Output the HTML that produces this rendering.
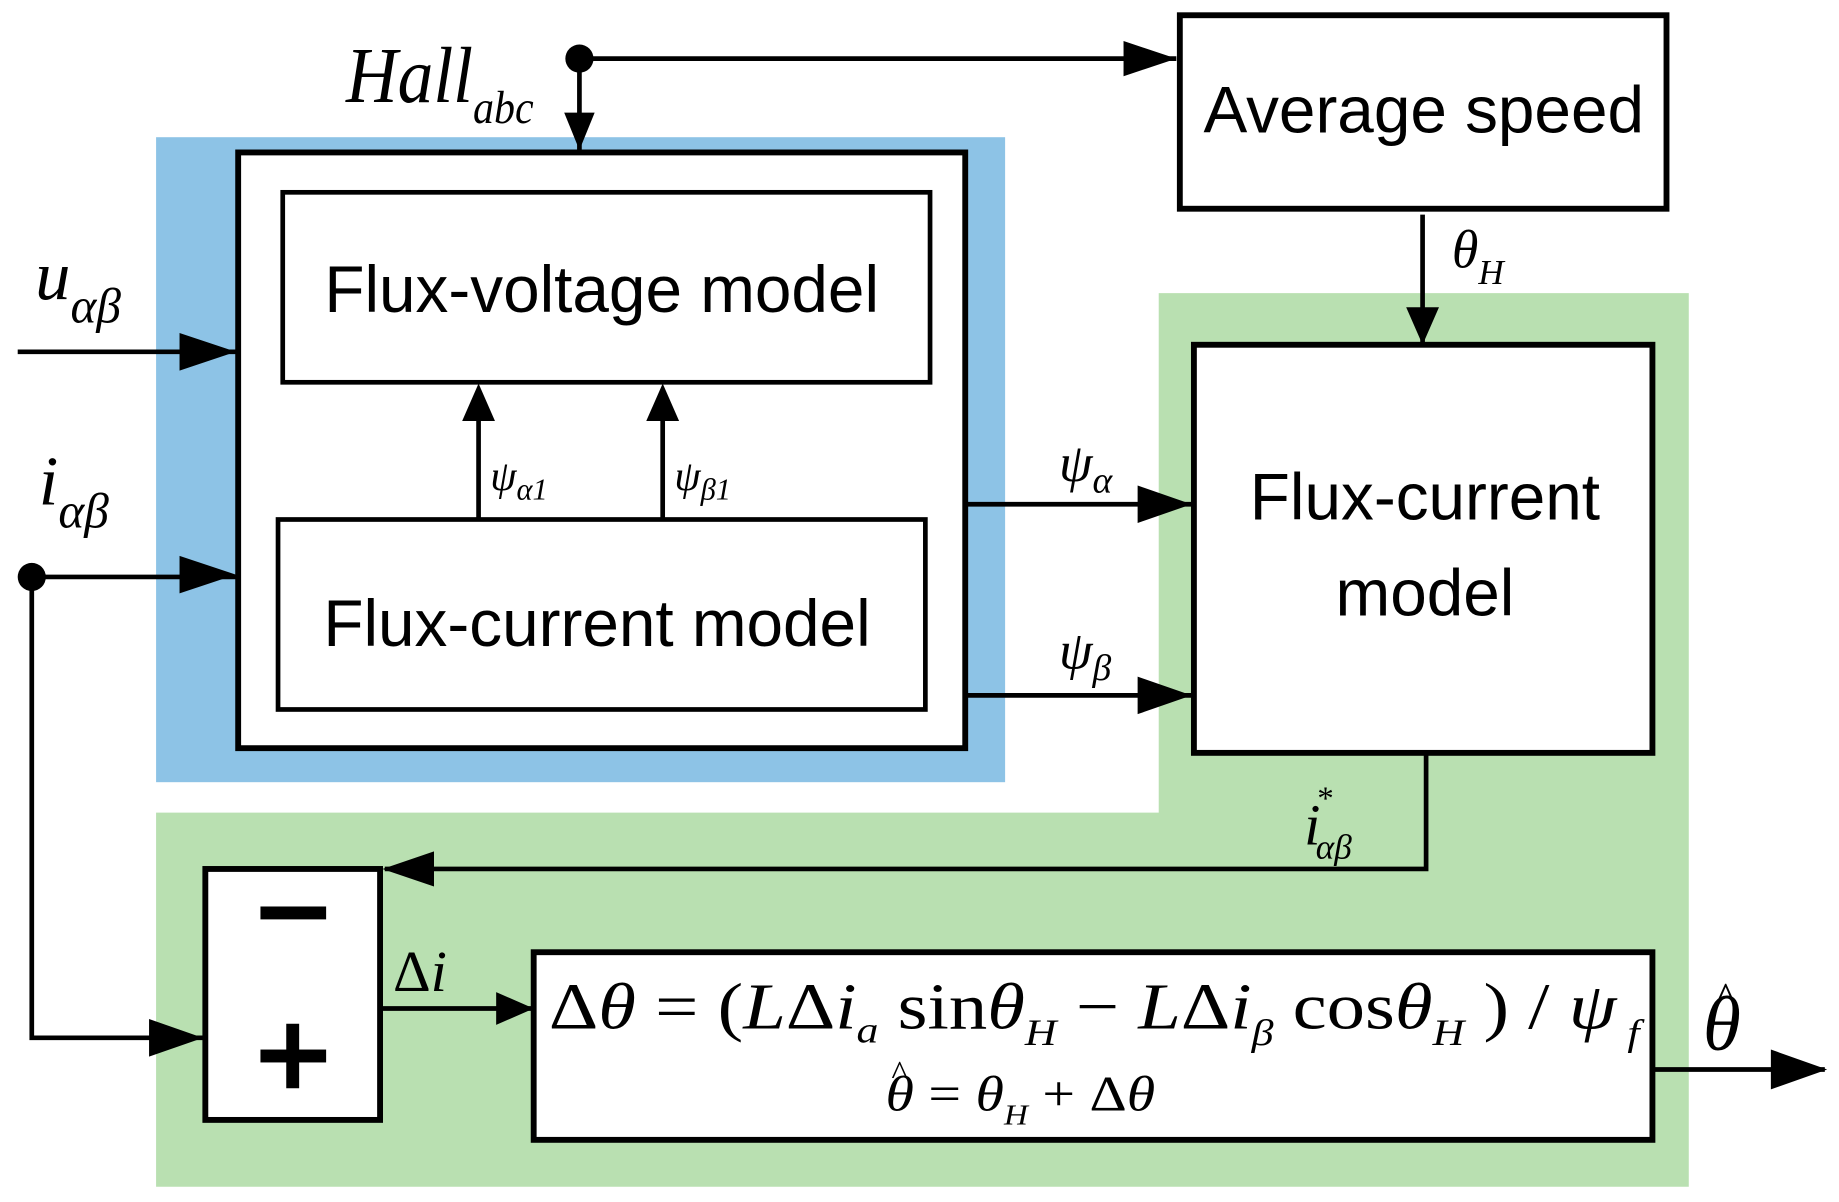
<!DOCTYPE html>
<html><head><style>html,body{margin:0;padding:0;background:#fff}svg{display:block}
.b{font-family:"Liberation Sans",Arial,sans-serif;font-size:56px}
.m{font-family:"Liberation Serif","Times New Roman",serif;font-style:italic}
.r{font-family:"Liberation Serif","Times New Roman",serif}
</style></head><body>
<svg width="1839" height="1202" viewBox="0 0 1568 1025" xmlns="http://www.w3.org/2000/svg">
<polygon points="988,250 1440,250 1440,1012 133,1012 133,693 988,693" fill="#b9e0b1"/>
<rect x="133" y="117" width="724" height="550" fill="#8dc3e6"/>
<g fill="#fff" stroke="#000" stroke-width="5">
<rect x="203" y="130" width="620" height="508"/>
<rect x="241" y="164" width="552" height="162" stroke-width="4"/>
<rect x="237" y="443" width="552" height="162" stroke-width="4"/>
<rect x="1006" y="13" width="415" height="165"/>
<rect x="1018" y="294" width="391" height="348"/>
<rect x="175" y="741" width="149" height="214"/>
<rect x="455" y="812" width="954" height="160"/>
</g>
<g stroke="#000" stroke-width="4" fill="none">
<path d="M494,50H1003"/><path d="M494,50V128"/>
<path d="M15,300H201"/><path d="M27,492H201"/><path d="M27,492V885H173"/>
<path d="M408,443V340"/><path d="M565,443V340"/>
<path d="M823,430H1016"/><path d="M823,593H1016"/>
<path d="M1213,183V292"/>
<path d="M1216,642V741H328"/>
<path d="M324,860H453"/><path d="M1409,912H1556"/>
</g>
<g>
<path d="M1003,50l-45,-15v30z"/><path d="M494,128l-13,-32h26z"/>
<path d="M201,300l-48,-16v32z"/><path d="M201,490l-48,-16v32z"/><path d="M173,885l-46,-16v32z"/>
<path d="M408,327l-14,32h28z"/><path d="M565,327l-14,32h28z"/>
<path d="M1016,430l-46,-16v32z"/><path d="M1016,593l-46,-16v32z"/>
<path d="M1213,294l-14,-32h28z"/><path d="M326,741l44,-15v30z"/>
<path d="M455,860l-32,-14v28z"/><path d="M1558,912l-48,-17v34z"/>
</g>
<circle cx="494" cy="50" r="12"/><circle cx="27" cy="492" r="12"/>
<text class="b" x="513" y="266" text-anchor="middle">Flux-voltage model</text>
<text class="b" x="509" y="551" text-anchor="middle">Flux-current model</text>
<text class="b" x="1214" y="113" text-anchor="middle">Average speed</text>
<text class="b" x="1215" y="443" text-anchor="middle">Flux-current</text>
<text class="b" x="1215" y="525" text-anchor="middle">model</text>
<rect x="222" y="773" width="56" height="11"/>
<rect x="222" y="895" width="56" height="11"/><rect x="244" y="873" width="11" height="55"/>
<text class="m" x="295" y="87" font-size="68" textLength="160" lengthAdjust="spacingAndGlyphs">Hall<tspan font-size="40" dy="18">abc</tspan></text>
<text class="m" x="30" y="255" font-size="60">u<tspan font-size="42" dy="20">αβ</tspan></text>
<text class="m" x="33" y="430" font-size="60">i<tspan font-size="42" dy="20">αβ</tspan></text>
<text class="m" x="418" y="418" font-size="36">ψ<tspan font-size="26" dy="8">α1</tspan></text>
<text class="m" x="575" y="418" font-size="36">ψ<tspan font-size="26" dy="8">β1</tspan></text>
<text class="m" x="903" y="410" font-size="46">ψ<tspan font-size="32" dy="10">α</tspan></text>
<text class="m" x="903" y="570" font-size="46">ψ<tspan font-size="32" dy="10">β</tspan></text>
<text class="m" x="1238" y="228" font-size="46">θ<tspan font-size="30" dy="14">H</tspan></text>
<text class="m" x="1112" y="720" font-size="50">i<tspan font-size="28" dy="-30" dx="-4">*</tspan><tspan font-size="30" dy="42" dx="-14">αβ</tspan></text>
<text class="r" x="335" y="845" font-size="50">Δ<tspan class="m">i</tspan></text>
<text class="r" x="468" y="877" font-size="56" textLength="930" lengthAdjust="spacingAndGlyphs">Δ<tspan class="m">θ</tspan> = (<tspan class="m">L</tspan>Δ<tspan class="m">i<tspan font-size="32" dy="12">a</tspan></tspan><tspan dy="-12"> sin</tspan><tspan class="m">θ<tspan font-size="32" dy="14">H</tspan></tspan><tspan dy="-14"> − </tspan><tspan class="m">L</tspan>Δ<tspan class="m">i<tspan font-size="32" dy="14">β</tspan></tspan><tspan dy="-14"> cos</tspan><tspan class="m">θ<tspan font-size="32" dy="14">H</tspan></tspan><tspan dy="-14"> ) / </tspan><tspan class="m">ψ<tspan font-size="32" dy="14"> f</tspan></tspan></text>
<text class="r" x="755" y="947" font-size="42" textLength="230" lengthAdjust="spacingAndGlyphs"><tspan class="m">θ</tspan> = <tspan class="m">θ<tspan font-size="24" dy="12">H</tspan></tspan><tspan dy="-12"> + Δ</tspan><tspan class="m">θ</tspan></text>
<text class="r" x="760" y="925" font-size="30">^</text>
<text class="m" x="1452" y="895" font-size="66">θ</text>
<text class="r" x="1462" y="865" font-size="40">^</text>
</svg>
</body></html>
